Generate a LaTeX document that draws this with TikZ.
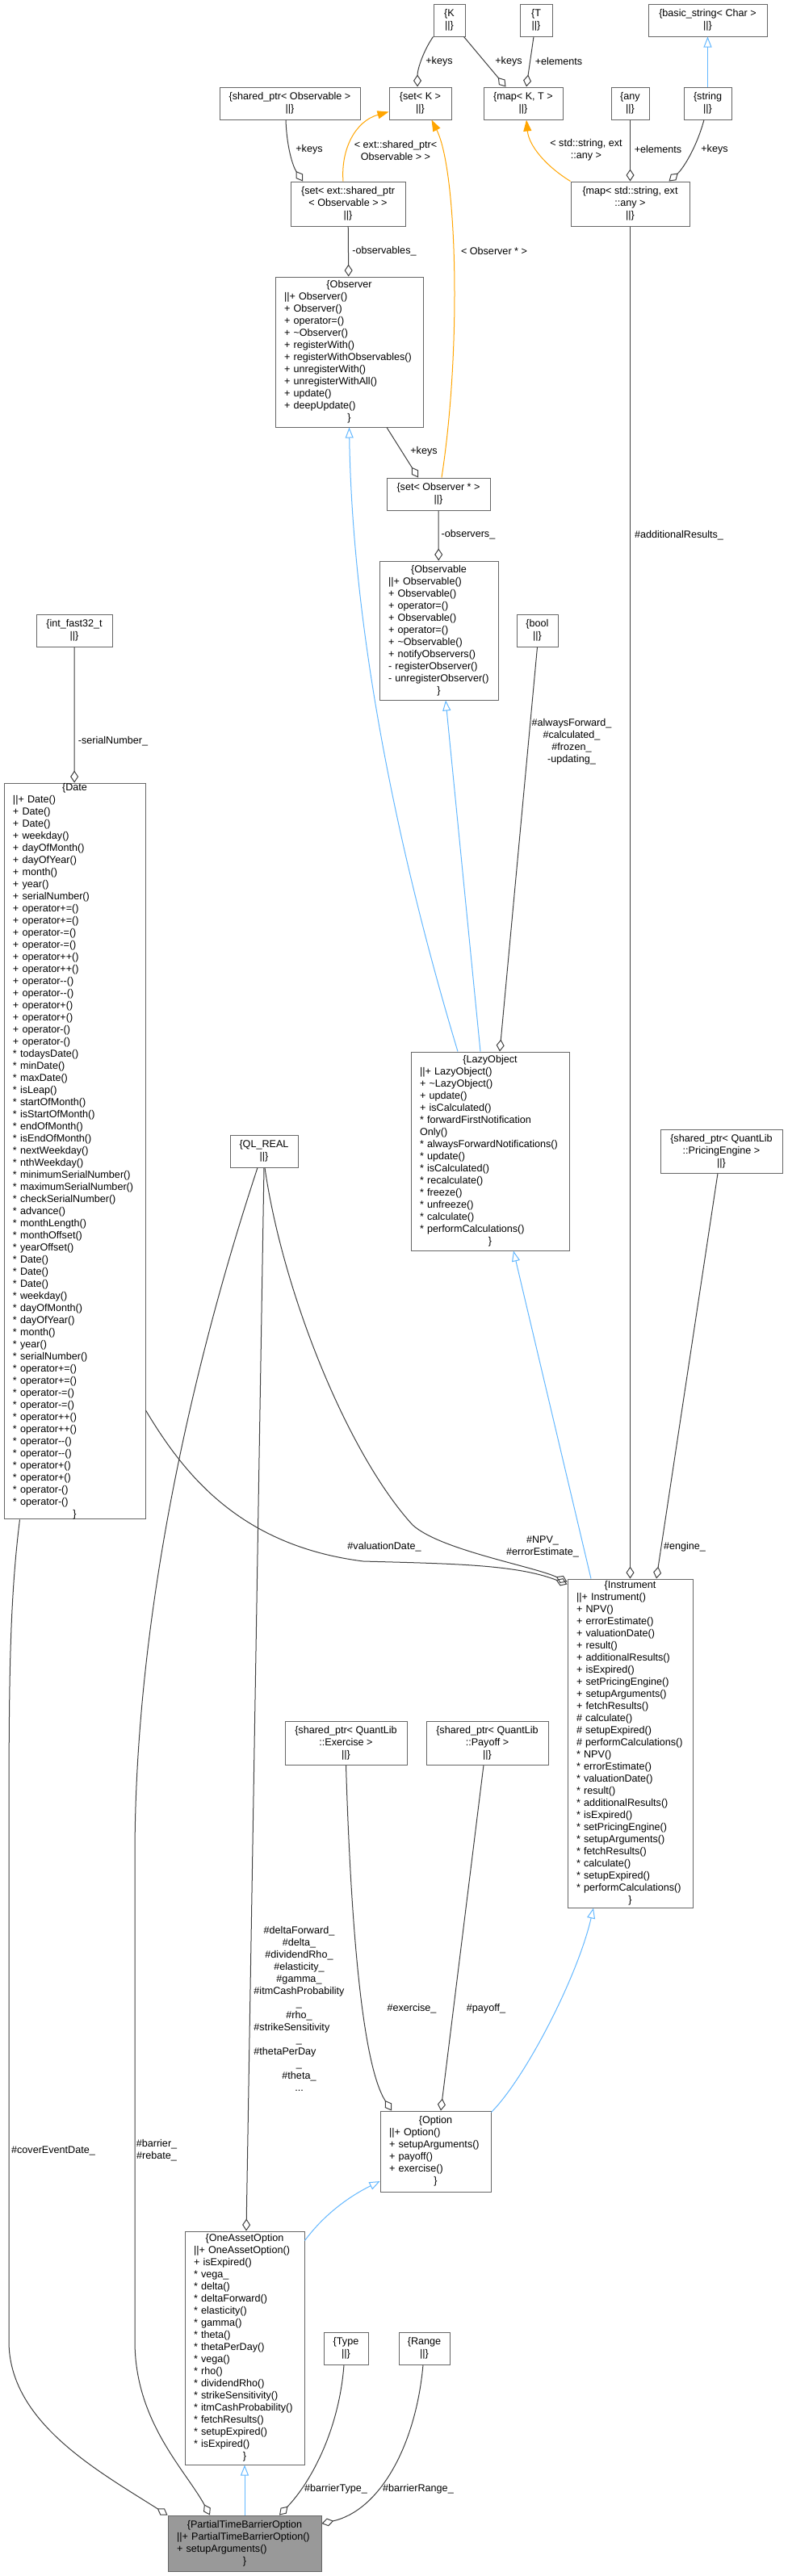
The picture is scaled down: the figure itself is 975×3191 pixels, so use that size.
\documentclass[tikz,border=0pt]{standalone}
\usepackage{fontspec}
\setmainfont{Liberation Sans}
\usetikzlibrary{arrows.meta,calc}
\definecolor{dxbox}{RGB}{102,102,102}
\definecolor{dxedge}{RGB}{64,64,64}
\definecolor{dxblue}{RGB}{99,184,255}
\definecolor{dxorange}{RGB}{255,165,0}
\definecolor{dxroot}{RGB}{153,153,153}
\newcommand\dxfont{\fontsize{12.6}{15}\selectfont}
\newcommand\ttl[1]{\makebox[\linewidth]{#1}}
\tikzset{
  cls/.style 2 args={draw=dxbox, fill=white, line width=1pt, font=\dxfont, align=left,
                     inner xsep=11pt, inner ysep=0pt, /utils/exec={\pgfmathsetmacro\clstw{#1-22}},
                     text width/.expanded=\clstw pt, minimum height=#2},
  box/.style 2 args={draw=dxbox, fill=white, line width=1pt, font=\dxfont, align=center,
                     inner sep=0pt, minimum width=#1, minimum height=#2},
  lbl/.style={font=\dxfont, align=center, inner sep=0pt},
  agg/.style={draw=dxedge, line width=1pt, -{Diamond[open, length=15pt, width=10pt]}},
  inh/.style={draw=dxblue, line width=1pt, -{Triangle[open, length=13pt, width=10pt]}},
  tpl/.style={draw=dxorange, line width=1pt, -{Triangle[length=14pt, width=10pt]}},
}

\begin{document}
\begin{tikzpicture}[x=1pt, y=-1pt]
\path[use as bounding box, fill=white] (0,0) rectangle (975,3191);

% template parameters and containers
\node[box={39}{40}] (kk) at (556.5,25) {\{K\\||\}};
\node[box={40}{40}] (tt) at (664,25) {\{T\\||\}};
\node[box={147}{40}] (bstr) at (876.5,25) {\{basic\_string< Char >\\||\}};
\node[box={174}{40}] (shobs) at (359,128) {\{shared\_ptr< Observable >\\||\}};
\node[box={77}{40}] (setk) at (520.5,128) {\{set< K >\\||\}};
\node[box={98}{40}] (mapkt) at (648,128) {\{map< K, T >\\||\}};
\node[box={47}{40}] (anyb) at (780.5,128) {\{any\\||\}};
\node[box={59}{40}] (strb) at (876.5,128) {\{string\\||\}};
\node[box={142}{55}] (setext) at (431,252.5) {\{set< ext::shared\_ptr\\< Observable > >\\||\}};
\node[box={147}{55}] (mapstd) at (780.5,252.5) {\{map< std::string, ext\\::any >\\||\}};

% observer pattern
\node[cls={183}{186}] (observer) at (432.5,436) {\ttl{\{Observer}\\||+ Observer()\\+ Observer()\\+ operator=()\\
  + \textasciitilde Observer()\\+ registerWith()\\+ registerWithObservables()\\+ unregisterWith()\\
  + unregisterWithAll()\\+ update()\\+ deepUpdate()\\\ttl{\}}};
\node[box={128}{40}] (setobs) at (543,612) {\{set< Observer * >\\||\}};
\node[cls={147}{172}] (observable) at (543.5,781) {\ttl{\{Observable}\\||+ Observable()\\+ Observable()\\
  + operator=()\\+ Observable()\\+ operator=()\\+ \textasciitilde Observable()\\+ notifyObservers()\\
  - registerObserver()\\- unregisterObserver()\\\ttl{\}}};
\node[box={51}{40}] (boolb) at (665.5,781) {\{bool\\||\}};
\node[box={94}{40}] (intf) at (92,781) {\{int\_fast32\_t\\||\}};

% date, real, lazy object, engine
\node[cls={175}{906}] (date) at (92.5,1426) {\ttl{\{Date}\\||+ Date()\\+ Date()\\+ Date()\\+ weekday()\\
  + dayOfMonth()\\+ dayOfYear()\\+ month()\\+ year()\\+ serialNumber()\\+ operator+=()\\+ operator+=()\\
  + operator-=()\\+ operator-=()\\+ operator++()\\+ operator++()\\+ operator-{}-()\\+ operator-{}-()\\
  + operator+()\\+ operator+()\\+ operator-()\\+ operator-()\\{}* todaysDate()\\{}* minDate()\\
  {}* maxDate()\\{}* isLeap()\\{}* startOfMonth()\\{}* isStartOfMonth()\\{}* endOfMonth()\\
  {}* isEndOfMonth()\\{}* nextWeekday()\\{}* nthWeekday()\\{}* minimumSerialNumber()\\
  {}* maximumSerialNumber()\\{}* checkSerialNumber()\\{}* advance()\\{}* monthLength()\\
  {}* monthOffset()\\{}* yearOffset()\\{}* Date()\\{}* Date()\\{}* Date()\\{}* weekday()\\
  {}* dayOfMonth()\\{}* dayOfYear()\\{}* month()\\{}* year()\\{}* serialNumber()\\{}* operator+=()\\
  {}* operator+=()\\{}* operator-=()\\{}* operator-=()\\{}* operator++()\\{}* operator++()\\
  {}* operator-{}-()\\{}* operator-{}-()\\{}* operator+()\\{}* operator+()\\{}* operator-()\\
  {}* operator-()\\\ttl{\}}};
\node[box={84}{40}] (qlreal) at (327,1426) {\{QL\_REAL\\||\}};
\node[cls={196}{246}] (lazy) at (607,1426) {\ttl{\{LazyObject}\\||+ LazyObject()\\+ \textasciitilde LazyObject()\\
  + update()\\+ isCalculated()\\{}* forwardFirstNotification\\Only()\\{}* alwaysForwardNotifications()\\
  {}* update()\\{}* isCalculated()\\{}* recalculate()\\{}* freeze()\\{}* unfreeze()\\{}* calculate()\\
  {}* performCalculations()\\\ttl{\}}};
\node[box={151}{54}] (engine) at (893.5,1426) {\{shared\_ptr< QuantLib\\::PricingEngine >\\||\}};

% instrument row
\node[cls={155}{407}] (instr) at (780.5,2159.5) {\ttl{\{Instrument}\\||+ Instrument()\\+ NPV()\\
  + errorEstimate()\\+ valuationDate()\\+ result()\\+ additionalResults()\\+ isExpired()\\
  + setPricingEngine()\\+ setupArguments()\\+ fetchResults()\\\# calculate()\\\# setupExpired()\\
  \# performCalculations()\\{}* NPV()\\{}* errorEstimate()\\{}* valuationDate()\\{}* result()\\
  {}* additionalResults()\\{}* isExpired()\\{}* setPricingEngine()\\{}* setupArguments()\\
  {}* fetchResults()\\{}* calculate()\\{}* setupExpired()\\{}* performCalculations()\\\ttl{\}}};
\node[box={151}{54}] (exer) at (428.5,2159) {\{shared\_ptr< QuantLib\\::Exercise >\\||\}};
\node[box={151}{54}] (payoff) at (603.5,2159) {\{shared\_ptr< QuantLib\\::Payoff >\\||\}};

% options
\node[cls={137}{100}] (option) at (539.5,2665) {\ttl{\{Option}\\||+ Option()\\+ setupArguments()\\
  + payoff()\\+ exercise()\\\ttl{\}}};
\node[cls={148}{289}] (oao) at (303,2908.5) {\ttl{\{OneAssetOption}\\||+ OneAssetOption()\\+ isExpired()\\
  {}* vega\_\\{}* delta()\\{}* deltaForward()\\{}* elasticity()\\{}* gamma()\\{}* theta()\\
  {}* thetaPerDay()\\{}* vega()\\{}* rho()\\{}* dividendRho()\\{}* strikeSensitivity()\\
  {}* itmCashProbability()\\{}* fetchResults()\\{}* setupExpired()\\{}* isExpired()\\\ttl{\}}};
\node[box={55}{40}] (typeb) at (428.5,2909) {\{Type\\||\}};
\node[box={63}{40}] (rangeb) at (525.5,2909) {\{Range\\||\}};
\node[cls={190}{69}, fill=dxroot] (ptbo) at (303,3150.5) {\ttl{\{PartialTimeBarrierOption}\\
  ||+ PartialTimeBarrierOption()\\+ setupArguments()\\\ttl{\}}};

% top connectors
\draw[agg] (kk.south west) .. controls (525,62) and (517,85) .. ($(setk.north)+(-3.5,0)$);
\draw[agg] ($(kk.south east)+(-2,0)$) -- ($(mapkt.north west)+(28,0)$);
\draw[agg] ($(tt.south)+(-3,0)$) -- ($(mapkt.north)+(4,0)$);
\draw[inh] (strb) -- (bstr);
\draw[agg] ($(shobs.south)+(-5,0)$) .. controls (355,180) and (362,205) .. ($(setext.north)+(-56,0)$);
\draw[tpl] ($(setext.north)+(-6,0)$) .. controls (422,185) and (440,150) .. ($(setk.south west)+(0,-10)$);
\draw[tpl] ($(setobs.north)+(4,0)$) .. controls (572,430) and (566,210) .. ($(setk.south)+(14,0)$);
\draw[tpl] (mapstd.north west) .. controls (675,205) and (655,180) .. ($(mapkt.south)+(4,0)$);
\draw[agg] (anyb) -- (mapstd);
\draw[agg] ($(strb.south)+(-4.5,0)$) .. controls (862,185) and (845,210) .. ($(mapstd.north)+(48,0)$);
\node[lbl] (l-keys1) at (544,76) {+keys};
\node[lbl] (l-keys2) at (630,76) {+keys};
\node[lbl] (l-elem1) at (692,76) {+elements};
\node[lbl] (l-keys3) at (383,185) {+keys};
\node[lbl] (l-tplext) at (490,186) {< ext::shared\_ptr<\\Observable > >};
\node[lbl] (l-tplstd) at (726,186) {< std::string, ext\\::any >};
\node[lbl] (l-elem2) at (815,185) {+elements};
\node[lbl] (l-keys4) at (885,185) {+keys};

% observer connectors
\draw[agg] (setext) -- (observer);
\draw[agg] ($(observer.south)+(46.5,0)$) -- ($(setobs.north)+(-25,0)$);
\draw[agg] (setobs) -- (observable);
\draw[inh] ($(lazy.north)+(-40,0)$) .. controls (500,1080) and (437,800) .. (observer.south);
\draw[inh] ($(lazy.north)+(-12,0)$) -- ($(observable.south)+(8.5,0)$);
\draw[agg] (boolb.south) -- ($(lazy.north)+(12,0)$);
\draw[agg] (intf) -- (date);
\node[lbl] (l-obsv) at (476,311) {-observables\_};
\node[lbl] (l-tplobs) at (612,311) {< Observer * >};
\node[lbl] (l-keys5) at (525,559) {+keys};
\node[lbl] (l-obsr) at (580,662) {-observers\_};
\node[lbl] (l-flags) at (708,919) {\#alwaysForward\_\\\#calculated\_\\\#frozen\_\\-updating\_};
\node[lbl] (l-sernum) at (140,918) {-serialNumber\_};

% instrument connectors
\draw[agg] (mapstd.south) -- (instr.north);
\draw[agg] ($(engine.south)+(-4.5,0)$) -- ($(instr.north)+(32.5,0)$);
\draw[inh] ($(instr.north)+(-48.5,0)$) -- ($(lazy.south)+(29,0)$);
\draw[agg] ($(date.east)+(0,321)$) .. controls (230,1830) and (300,1915) .. (450,1934)
  .. controls (560,1937) and (640,1938) .. ($(instr.north west)+(0,7)$);
\draw[agg] ($(qlreal.south)+(1,0)$) .. controls (350,1600) and (430,1800) .. (511,1889)
  .. controls (545,1920) and (660,1940) .. ($(instr.north west)+(0,4)$);
\node[lbl] (l-addres) at (841,663) {\#additionalResults\_};
\node[lbl] (l-valdate) at (476,1916) {\#valuationDate\_};
\node[lbl] (l-npv) at (672,1916) {\#NPV\_\\\#errorEstimate\_};
\node[lbl] (l-engine) at (848,1916) {\#engine\_};

% option connectors
\draw[agg] (qlreal.south) -- ($(oao.north)+(2,0)$);
\draw[agg] (exer.south) .. controls (435,2400) and (450,2560) .. ($(option.north)+(-54.5,0)$);
\draw[agg] ($(payoff.south)+(-4.5,0)$) -- ($(option.north)+(6.5,0)$);
\draw[inh] ($(option.north east)+(0,2)$) .. controls (650,2575) and (715,2450) .. ($(instr.south)+(-45.5,0)$);
\draw[inh] ($(oao.north east)+(0,12)$) .. controls (400,2745) and (430,2722) .. ($(option.west)+(0,37)$);
\node[lbl] (l-greeks) at (370.5,2488.5) {\#deltaForward\_\\\#delta\_\\\#dividendRho\_\\\#elasticity\_\\
  \#gamma\_\\\#itmCashProbability\\\_\\\#rho\_\\\rlap{\#strikeSensitivity}\phantom{\#itmCashProbability}\\
  \_\\\rlap{\#thetaPerDay}\phantom{\#itmCashProbability}\\\_\\\#theta\_\\...};
\node[lbl] (l-exer) at (510,2488) {\#exercise\_};
\node[lbl] (l-payoff) at (602,2488) {\#payoff\_};

% barrier option connectors
\draw[inh] (ptbo) -- (oao);
\draw[agg] ($(date.south west)+(20,0)$) .. controls (11,1990) and (11,2100) .. (11,2300) -- (11,2900)
  .. controls (11,3000) and (120,3060) .. (ptbo.north west);
\draw[agg] ($(qlreal.south)+(-8,0)$) .. controls (265,1610) and (167,1950) .. (167,2300) -- (167,2900)
  .. controls (167,3000) and (230,3060) .. ($(ptbo.north)+(-43,0)$);
\draw[agg] ($(typeb.south)+(-2.5,0)$) .. controls (420,3010) and (385,3075) .. ($(ptbo.north)+(43,0)$);
\draw[agg] ($(rangeb.south)+(-1.5,0)$) .. controls (515,3030) and (470,3110) .. ($(ptbo.east)+(0,-24.5)$);
\node[lbl] (l-cover) at (66,2664) {\#coverEventDate\_};
\node[lbl] (l-barrier) at (194,2664) {\#barrier\_\\\#rebate\_};
\node[lbl] (l-btype) at (416,3083) {\#barrierType\_};
\node[lbl] (l-brange) at (518,3083) {\#barrierRange\_};

\end{tikzpicture}
\end{document}
